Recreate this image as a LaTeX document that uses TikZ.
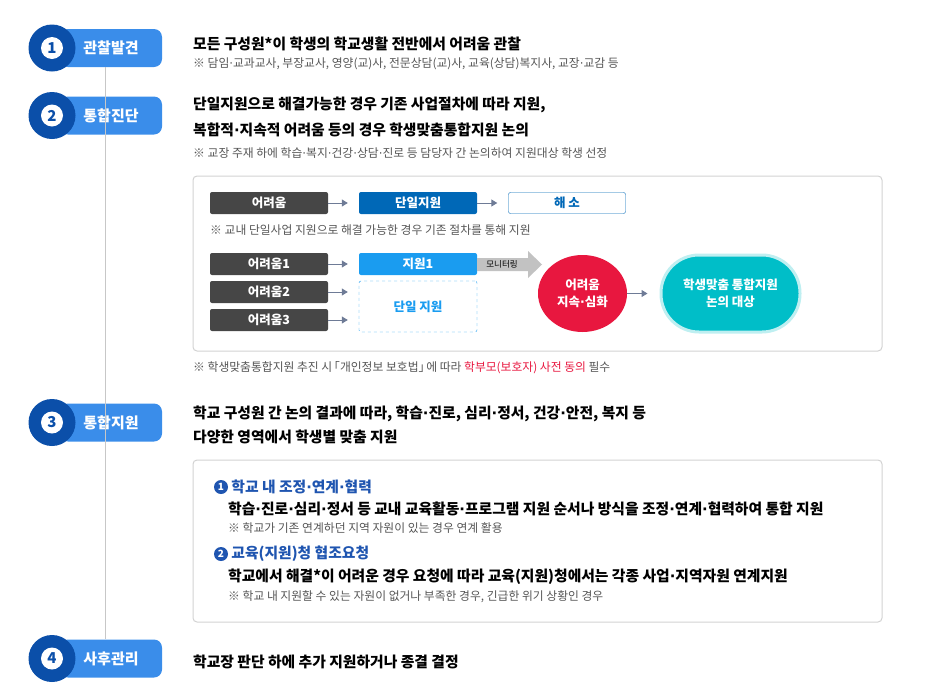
\documentclass[tikz,border=0pt]{standalone}
\usepackage{fontspec}
\setmainfont{Noto Sans CJK KR}
\newfontfamily\dotfont{DejaVu Sans}
\newcommand{\md}{{\dotfont\symbol{"B7}}}
\usetikzlibrary{arrows.meta,shapes.geometric}
\definecolor{stepdark}{HTML}{0B4FA9}
\definecolor{steplight}{HTML}{3A8DEA}
\definecolor{boxdark}{HTML}{464646}
\definecolor{singleblue}{HTML}{0068B7}
\definecolor{skyblue}{HTML}{1A9CF0}
\definecolor{alertred}{HTML}{E8173F}
\definecolor{tealc}{HTML}{00BEC8}
\definecolor{arrowgray}{HTML}{6E7B96}
\definecolor{notegray}{HTML}{555555}
\definecolor{framegray}{HTML}{D2D2D2}
\definecolor{itemblue}{HTML}{1F55B0}
\tikzstyle{connector} = [line width=1pt, draw=arrowgray, -{Triangle[length=6pt,width=7pt]}]
\tikzstyle{timeline} = [line width=1pt, draw=black!22]
\tikzstyle{steppill} = [fill=steplight, rounded corners=8pt, minimum width=102pt, minimum height=38pt, text=white, font=\fontsize{15}{18}\selectfont\bfseries]
\tikzstyle{stepdot} = [circle, fill=stepdark, minimum size=47pt, inner sep=0pt]
\tikzstyle{stepnum} = [circle, fill=white, minimum size=22pt, inner sep=0pt, text=stepdark, font=\fontsize{15}{15}\selectfont\bfseries]
\tikzstyle{headtext} = [anchor=west, inner sep=0pt, font=\fontsize{14.8}{17}\selectfont\bfseries]
\tikzstyle{notetext} = [anchor=west, inner sep=0pt, text=notegray, font=\fontsize{11.8}{13}\selectfont]
\tikzstyle{frame} = [draw=framegray, line width=1pt, rounded corners=4pt]
\tikzstyle{flowbox} = [rectangle, rounded corners=2pt, minimum width=118pt, minimum height=22pt, inner sep=0pt, text=white, font=\fontsize{12.5}{14}\selectfont\bfseries]
\tikzstyle{itemdot} = [circle, fill=itemblue, minimum size=14pt, inner sep=0pt, text=white, font=\fontsize{10}{10}\selectfont\bfseries]
\tikzstyle{itemhead} = [anchor=west, inner sep=0pt, text=itemblue, font=\fontsize{14.8}{17}\selectfont\bfseries]

\begin{document}
\begin{tikzpicture}[x=1pt, y=-1pt, node distance=149pt]
\useasboundingbox (0,0) rectangle (945,691);

% steps on the left
\node (p1) [steppill] at (111,48) {관찰발견};
\node (p2) [steppill] at (111,115.5) {통합진단};
\node (p3) [steppill] at (111,422.5) {통합지원};
\node (p4) [steppill] at (111,658.5) {사후관리};
\draw [timeline] ([xshift=-6pt]p1.south) -- ([xshift=-6pt]p4.north);
\node (c1) [stepdot] at (52,48) {};
\node (c2) [stepdot] at (52,115.5) {};
\node (c3) [stepdot] at (52,422.5) {};
\node (c4) [stepdot] at (52,658.5) {};
\node (k1) [stepnum] at (c1) {1};
\node (k2) [stepnum] at (c2) {2};
\node (k3) [stepnum] at (c3) {3};
\node (k4) [stepnum] at (c4) {4};

% step 1
\node (t1) [headtext] at (193,44) {모든 구성원*이 학생의 학교생활 전반에서 어려움 관찰};
\node (n1) [notetext] at (193,64) {※ 담임\md{}교과교사, 부장교사, 영양(교)사, 전문상담(교)사, 교육(상담)복지사, 교장\md{}교감 등};

% step 2
\node (t2a) [headtext] at (193,105) {단일지원으로 해결가능한 경우 기존 사업절차에 따라 지원,};
\node (t2b) [headtext] at (193,130) {복합적\md{}지속적 어려움 등의 경우 학생맞춤통합지원 논의};
\node (n2) [notetext] at (193,153) {※ 교장 주재 하에 학습\md{}복지\md{}건강\md{}상담\md{}진로 등 담당자 간 논의하여 지원대상 학생 선정};

\draw [frame] (193,176) rectangle (882,351);

\node (d0) [flowbox, fill=boxdark] at (269,203) {어려움};
\node (s0) [flowbox, fill=singleblue, right of=d0] {단일지원};
\node (r0) [flowbox, fill=white, draw=singleblue, text=singleblue, right of=s0, minimum width=117pt, minimum height=21pt] {해 소};
\draw [connector, shorten >=11pt] (d0) -- (s0);
\draw [connector, shorten >=11pt] (s0) -- (r0);
\node (n3) [notetext] at (210,230) {※ 교내 단일사업 지원으로 해결 가능한 경우 기존 절차를 통해 지원};

\node (d1) [flowbox, fill=boxdark] at (269,264) {어려움1};
\node (d2) [flowbox, fill=boxdark, below of=d1, node distance=28pt] {어려움2};
\node (d3) [flowbox, fill=boxdark, below of=d2, node distance=28pt] {어려움3};
\node (s1) [flowbox, fill=skyblue, right of=d1] {지원1};
\node (s2) [flowbox, draw=skyblue, dashed, text=skyblue, minimum height=51pt] at (418,306.5) {단일 지원};
\draw [connector, shorten >=11pt] (d1) -- (s1);
\draw [connector, shorten >=11pt] (d2) -- (d2 -| s2.west);
\draw [connector, shorten >=11pt] (d3) -- (d3 -| s2.west);

\node (h1) [ellipse, fill=alertred, minimum width=89pt, minimum height=77pt, inner sep=0pt, text=white, align=center, font=\fontsize{12.5}{17}\selectfont\bfseries] at (582.5,293.5) {어려움\\지속\md{}심화};
\fill [black!24] (s1.east |- 0,258) -- (528,258) -- (528,251) -- (542,264.5) -- (528,278) -- (528,271) -- (s1.east |- 0,271) -- cycle;
\node (m1) [inner sep=0pt, font=\fontsize{8.5}{9}\selectfont] at (502,264.5) {모니터링};
\node (g1) [rectangle, fill=tealc, rounded corners=38pt, minimum width=139pt, minimum height=77pt, text=white, align=center, font=\fontsize{12.5}{17}\selectfont\bfseries, draw=tealc!25, line width=3pt] at (730.5,293.5) {학생맞춤 통합지원\\논의 대상};
\draw [connector, shorten >=12pt] (h1) -- (g1);

\node (n4) [notetext] at (193,368) {※ 학생맞춤통합지원 추진 시\kern-.35em「개인정보 보호법」\kern-.35em에 따라 {\color{alertred}학부모(보호자) 사전 동의} 필수};

% step 3
\node (t3a) [headtext] at (193,414) {학교 구성원 간 논의 결과에 따라, 학습\md{}진로, 심리\md{}정서, 건강\md{}안전, 복지 등};
\node (t3b) [headtext] at (193,437) {다양한 영역에서 학생별 맞춤 지원};

\draw [frame] (193,460) rectangle (882,622);
\node (b1) [itemdot] at (221,487) {1};
\node (i1) [itemhead] at ([xshift=3pt]b1.east) {학교 내 조정\md{}연계\md{}협력};
\node (e1) [headtext] at (228,509) {학습\md{}진로\md{}심리\md{}정서 등 교내 교육활동\md{}프로그램 지원 순서나 방식을 조정\md{}연계\md{}협력하여 통합 지원};
\node (f1) [notetext] at (228,528) {※ 학교가 기존 연계하던 지역 자원이 있는 경우 연계 활용};
\node (b2) [itemdot] at (221,554) {2};
\node (i2) [itemhead] at ([xshift=3pt]b2.east) {교육(지원)청 협조요청};
\node (e2) [headtext] at (228,577) {학교에서 해결*이 어려운 경우 요청에 따라 교육(지원)청에서는 각종 사업\md{}지역자원 연계지원};
\node (f2) [notetext] at (228,597) {※ 학교 내 지원할 수 있는 자원이 없거나 부족한 경우, 긴급한 위기 상황인 경우};

% step 4
\node (t4) [headtext] at (193,662) {학교장 판단 하에 추가 지원하거나 종결 결정};
\end{tikzpicture}
\end{document}
